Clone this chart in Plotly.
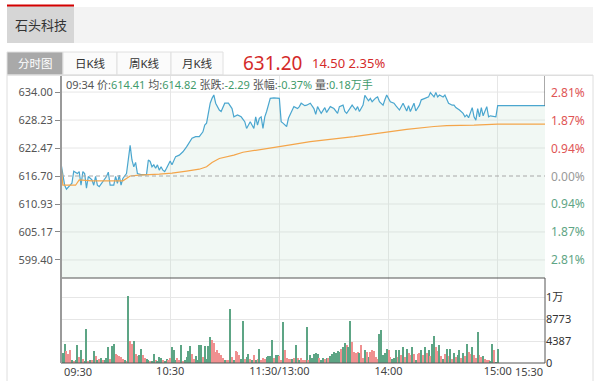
import plotly.graph_objects as go

W, H = 600, 381

# ---------------- data ----------------
stock_name = "石头科技"
tabs = ["分时图", "日K线", "周K线", "月K线"]
last_price = "631.20"
change_txt = "14.50 2.35%"
pre_close = 616.70

price_ticks = [599.40, 605.17, 610.93, 616.70, 622.47, 628.23, 634.00]
time_ticks = [60, 120, 180, 240]
time_labels = ["10:30", "11:30/13:00", "14:00", "15:00"]
end_labels = ["09:30", "15:30"]
vol_ticks = [0, 4387, 8773, 13160]
vol_labels = ["0", "4387", "8773", "1万"]

price_min = [0, 2, 3, 4, 6, 7, 9, 10, 11, 12, 13, 14, 15, 17, 18, 19, 20, 21, 23, 25,
             26, 27, 29, 30, 31, 32, 33, 34, 36, 37, 38, 39, 40, 41, 42, 44, 46, 47, 48, 49,
             50, 51, 52, 53, 54, 55, 56, 57, 58, 60, 61, 63, 65, 67, 69, 70, 72, 74, 76, 78,
             79, 80, 81, 82, 83, 84, 85, 87, 88, 89, 90, 92, 94, 95, 97, 99, 101, 102, 104, 106,
             107, 108, 109, 110, 111, 112, 113, 115, 117, 120, 121, 122, 124, 125, 126, 128, 130, 131, 132, 134,
             135, 137, 139, 140, 141, 143, 145, 146, 148, 150, 152, 153, 155, 156, 157, 159, 160, 162, 163, 164,
             166, 167, 169, 170, 171, 173, 174, 175, 177, 178, 179, 181, 183, 184, 186, 188, 190, 191, 192, 194,
             195, 197, 198, 200, 202, 203, 205, 206, 207, 208, 210, 211, 213, 215, 216, 217, 219, 221, 222, 223,
             224, 226, 227, 228, 229, 230, 231, 232, 234, 235, 236, 239, 240, 266]
price_val = [619.3, 614.8, 614.0, 614.41, 615.2, 617.7, 617.2, 617.6, 614.8, 617.6, 617.2, 614.2, 616.6, 615.9, 614.8, 616.6, 614.8, 614.5, 615.5, 616.6,
             617.5, 614.8, 614.8, 616.6, 615.2, 616.9, 614.8, 616.2, 617.2, 619.7, 623.0, 620.0, 618.6, 619.5, 617.2, 617.0, 616.9, 617.0, 620.0, 619.7,
             618.6, 619.0, 618.3, 619.0, 617.9, 618.6, 617.9, 617.6, 618.3, 619.8, 619.0, 620.7, 621.0, 621.7, 622.7, 623.4, 624.5, 624.8, 624.8, 625.8,
             627.2, 627.6, 630.0, 631.7, 632.7, 633.4, 631.7, 630.3, 630.0, 631.0, 631.7, 631.7, 630.6, 628.9, 629.3, 628.9, 627.9, 626.5, 627.9, 626.5,
             628.9, 627.2, 628.6, 628.9, 626.5, 628.9, 630.0, 632.7, 632.8, 632.7, 627.9, 627.6, 626.9, 628.6, 629.3, 631.0, 630.6, 631.0, 631.7, 631.2,
             631.3, 631.7, 630.6, 629.4, 631.0, 629.6, 630.8, 629.8, 631.0, 630.6, 629.6, 631.0, 631.3, 630.0, 629.6, 630.6, 631.3, 630.3, 631.0, 630.0,
             631.3, 633.3, 632.2, 632.7, 632.0, 632.8, 633.0, 632.0, 631.3, 632.4, 633.4, 632.0, 631.7, 631.2, 630.3, 631.7, 630.1, 631.2, 630.0, 631.7,
             630.1, 631.3, 632.4, 632.7, 633.0, 633.9, 633.0, 633.9, 633.0, 633.4, 633.0, 633.4, 631.7, 631.3, 631.3, 630.8, 630.3, 629.6, 628.9, 629.3,
             628.7, 630.8, 628.9, 628.2, 630.6, 628.9, 630.8, 629.1, 631.0, 628.9, 629.1, 628.9, 631.2, 631.2]

avg_min = [0, 1, 8, 10, 17, 34, 38, 43, 54, 61, 69, 76, 80, 83, 87, 95, 100, 109, 119, 126,
           137, 150, 161, 172, 181, 190, 205, 212, 227, 240, 266]
avg_val = [619.3, 614.8, 614.8, 615.9, 615.7, 615.7, 616.7, 616.9, 617.1, 617.3, 617.7, 618.1, 618.6, 619.5, 620.3, 621.0, 621.6, 622.1, 622.6, 623.1,
           623.8, 624.3, 624.8, 625.4, 625.9, 626.3, 626.9, 627.1, 627.2, 627.4, 627.4]

volume = [670, 2000, 3860, 2390, 1800, 2530, 530, 330, 670, 3520,
          1200, 2530, 860, 400, 6850, 400, 670, 670, 2390, 1330,
          530, 860, 1060, 530, 530, 1060, 3190, 860, 3390, 3720,
          1730, 1530, 1330, 1200, 860, 670, 400, 13370, 4320, 3860,
          4320, 1730, 1330, 1530, 2860, 1530, 1060, 860, 530, 330,
          400, 1730, 530, 330, 1200, 1060, 670, 330, 860, 530,
          1060, 3190, 2530, 530, 1060, 670, 3660, 400, 670, 1200,
          2390, 3330, 1730, 860, 1330, 670,
          3520, 3520, 1200, 3330, 860, 3330, 5190, 4660, 3990, 2190,
          2530, 2000, 1530, 1060, 670, 530, 530, 10710, 1200, 670,
          2390, 2190, 1530, 860, 8380, 860, 1200, 1730, 860, 670,
          1530, 670, 860, 2860, 530, 1060, 860, 1200, 1330, 1330,
          4520, 1060, 1530, 1530, 1330, 530, 8180, 2660, 1060, 860,
          860, 860, 1060, 3520, 1060, 530, 1060, 670, 530, 7180,
          530, 1530, 1060, 1730, 2000, 1730, 1060, 670, 1060, 860,
          1060, 1060, 1330, 1730, 2190, 2000, 2390, 2190, 2860, 3190,
          3990, 3520, 3190, 8380, 4190, 2190, 2000, 2190, 2000, 3520,
          1060, 2530, 2190, 1200, 2190, 2530, 2390, 1200, 860, 5850,
          6520, 1530, 2000, 2860, 2530, 1200, 860, 1060, 2530, 1200,
          2530, 1530, 3190, 1200, 2860, 2000, 1530, 3190, 1730, 670,
          1730, 2000, 2530, 1530, 3190, 2000, 2530, 1330, 3720, 5320,
          3190, 2390, 3520, 1330, 860, 1860, 2860, 1330, 2860, 860,
          2000, 1200, 1530, 2530, 1060, 2000, 1330, 3720, 2190, 1730,
          3190, 1530, 1060, 6180, 1530, 1200, 1330, 860, 670, 530,
          400, 3720, 2530, 200, 2860]
vol_dir = ("gggrrrgrgg" "rgrggrgrgr" "grgrgggrgg" "rrrrrgrgrr" "grrggrrggr"
           "ggrgggrggr" "rgggrrgrgg" "ggrrgg"
           "ggrggggrrr" "rrrrgrrgrg" "rrrggrggrg" "rgrgrrrggg" "grggrrgrrr"
           "rgrgrgrrrg" "rgggggrggr" "grggggggrg" "grggrrrrgr" "rgrgrrrrrg"
           "ggggrrgggr"
           "grgrgrrgrg" "rrgrgrgrgg" "rrgrgrgrgr" "grggrgrgrr" "grrgrrgrrr"
           "ggrgg")

info_parts = [("09:34 价:", "614.41"), (" 均:", "614.82"), (" 张跌:", "-2.29"),
              (" 张幅:", "-0.37%"), (" 量:", "0.18万手")]

# ---------------- styling ----------------
FONT = "Noto Sans, Noto Sans CJK SC, sans-serif"
RED = "#d42a2a"
GREEN_TXT = "#3f9b6c"
UP_BAR = "#f09090"
DN_BAR = "#5da585"
GRID = "#e6e6e6"

def px(x):
    return x / W

def py(y):
    return 1 - y / H

X0, X1 = 61, 545
P_TOP, P_BOT, V_BOT = 76, 278, 363
y_lo, y_hi = 595.68, 637.31
v_hi = 16950
x_hi = 266

fig = go.Figure()

fig.add_trace(go.Scatter(
    x=price_min, y=price_val, mode="lines",
    line=dict(color="#4aa6cf", width=1.2),
    fill="tozeroy", fillcolor="rgba(190,225,205,0.22)",
    xaxis="x", yaxis="y", hoverinfo="skip"))
fig.add_trace(go.Scatter(
    x=avg_min, y=avg_val, mode="lines",
    line=dict(color="#f4a54a", width=1.2),
    xaxis="x", yaxis="y", hoverinfo="skip"))
fig.add_trace(go.Bar(
    x=list(range(len(volume))), y=volume,
    marker=dict(color=[UP_BAR if d == "r" else DN_BAR for d in vol_dir], line=dict(width=0)),
    width=0.55, xaxis="x2", yaxis="y2", hoverinfo="skip"))

shapes = []
def rect(x0, y0, x1, y1, fill=None, line=None, lw=1, layer="below"):
    shapes.append(dict(type="rect", xref="paper", yref="paper",
                       x0=px(x0), x1=px(x1), y0=py(y1), y1=py(y0),
                       fillcolor=fill if fill else "rgba(0,0,0,0)",
                       line=dict(color=line if line else "rgba(0,0,0,0)", width=lw if line else 0),
                       layer=layer))
def hline(x0, x1, y, color, w=1, dash="solid", layer="above"):
    shapes.append(dict(type="line", xref="paper", yref="paper",
                       x0=px(x0), x1=px(x1), y0=py(y), y1=py(y),
                       line=dict(color=color, width=w, dash=dash), layer=layer))
def vline(x, y0, y1, color, w=1, layer="above"):
    shapes.append(dict(type="line", xref="paper", yref="paper",
                       x0=px(x), x1=px(x), y0=py(y0), y1=py(y1),
                       line=dict(color=color, width=w), layer=layer))

# header
rect(74, 7, 593, 43, fill="#f3f3f3")
rect(7, 6, 74, 43, fill="#d6d6d6")
hline(7, 74, 5.5, "#d40000", 2)
# tabs
tab_edges = [7, 63, 117, 171, 223]
for i in range(len(tabs)):
    rect(tab_edges[i], 52, tab_edges[i + 1], 75,
         fill="#a9a9a9" if i == 0 else "#fbfbfb", line="#e0e0e0")
# content box
rect(7, 75, 593, 395, line="#dedede")

# price grid (dashed base line)
for t in price_ticks:
    if abs(t - pre_close) < 1e-6:
        shapes.append(dict(type="line", xref="x", yref="y", x0=0, x1=x_hi, y0=t, y1=t,
                           line=dict(color="#a8a8a8", width=1, dash="4px,3px"), layer="above"))
    else:
        shapes.append(dict(type="line", xref="x", yref="y", x0=0, x1=x_hi, y0=t, y1=t,
                           line=dict(color=GRID, width=1), layer="below"))

# frame lines
hline(X0, 593, 75.5, "#dedede", 1)
shapes.append(dict(type="line", xref="x", yref="y", x0=x_hi, x1=x_hi,
                   y0=price_val[-1], y1=y_hi, line=dict(color="#555", width=1), layer="above"))
hline(X0, X1, P_BOT, "#555", 1)
hline(X0, X1, V_BOT, "#555", 1)
vline(X1, P_BOT, V_BOT, "#555", 1)
vline(X0, P_TOP, V_BOT, "#9a9a9a", 2)

annotations = []
def text(x, y, s, size=11, color="#444", xanchor="center", yanchor="middle"):
    annotations.append(dict(xref="paper", yref="paper", x=px(x), y=py(y), text=s,
                            showarrow=False, xanchor=xanchor, yanchor=yanchor,
                            font=dict(family=FONT, size=size, color=color)))

text(40.5, 25.5, stock_name, 13, "#333")
for i, t in enumerate(tabs):
    text((tab_edges[i] + tab_edges[i + 1]) / 2, 63.5, t, 11.5,
         "#ffffff" if i == 0 else "#333")
text(241, 63, last_price, 19, RED, xanchor="left")
text(310, 63.5, change_txt, 13, RED, xanchor="left")

info_html = "".join(f'<span style="color:#555">{a}</span><span style="color:{GREEN_TXT}">{b}</span>'
                    for a, b in info_parts)
text(64, 84.5, info_html, 11, "#555", xanchor="left")

# right percentage labels
for t in price_ticks:
    pct = abs((t - pre_close) / pre_close * 100)
    col = "#e05555" if t > pre_close + 1e-6 else ("#5fa585" if t < pre_close - 1e-6 else "#999999")
    annotations.append(dict(xref="paper", yref="y", x=px(549), y=t, text=f"{pct:.2f}%",
                            showarrow=False, xanchor="left", yanchor="middle",
                            font=dict(family=FONT, size=12, color=col)))

# end time labels
text(62, 371.5, end_labels[0], 11, "#444", xanchor="left")
text(545, 371.5, end_labels[1], 11, "#444", xanchor="right")

fig.update_layout(
    width=W, height=H, margin=dict(l=0, r=0, t=0, b=0, autoexpand=False),
    paper_bgcolor="white", plot_bgcolor="rgba(0,0,0,0)",
    showlegend=False, bargap=0,
    font=dict(family=FONT, size=11, color="#444"),
    xaxis=dict(domain=[px(X0), px(X1)], range=[0, x_hi], anchor="y", automargin=False,
               tickvals=time_ticks, showticklabels=False, ticks="",
               showgrid=True, gridcolor=GRID, zeroline=False, showline=False, fixedrange=True),
    yaxis=dict(domain=[py(P_BOT), py(P_TOP)], range=[y_lo, y_hi], anchor="x", automargin=False,
               tickvals=price_ticks, ticktext=[f"{t:.2f}" for t in price_ticks],
               ticks="outside", ticklen=5, tickcolor="#888",
               tickfont=dict(family=FONT, size=11, color="#555"),
               showgrid=False, zeroline=False, showline=False, fixedrange=True),
    xaxis2=dict(domain=[px(X0), px(X1)], range=[0, x_hi], anchor="y2", automargin=False,
                tickvals=time_ticks, ticktext=time_labels, ticks="",
                tickfont=dict(family=FONT, size=11, color="#444"),
                showgrid=True, gridcolor=GRID, zeroline=False, showline=False, fixedrange=True),
    yaxis2=dict(domain=[py(V_BOT), py(P_BOT)], range=[0, v_hi], anchor="x2", side="right",
                automargin=False,
                tickvals=vol_ticks, ticktext=vol_labels, ticks="",
                tickfont=dict(family=FONT, size=11, color="#333"),
                showgrid=True, gridcolor=GRID, zeroline=False, showline=False, fixedrange=True),
    shapes=shapes, annotations=annotations,
)

fig.write_html("out.html", config={"displayModeBar": False},
               post_script="document.body.style.margin='0';document.body.style.padding='0';")
